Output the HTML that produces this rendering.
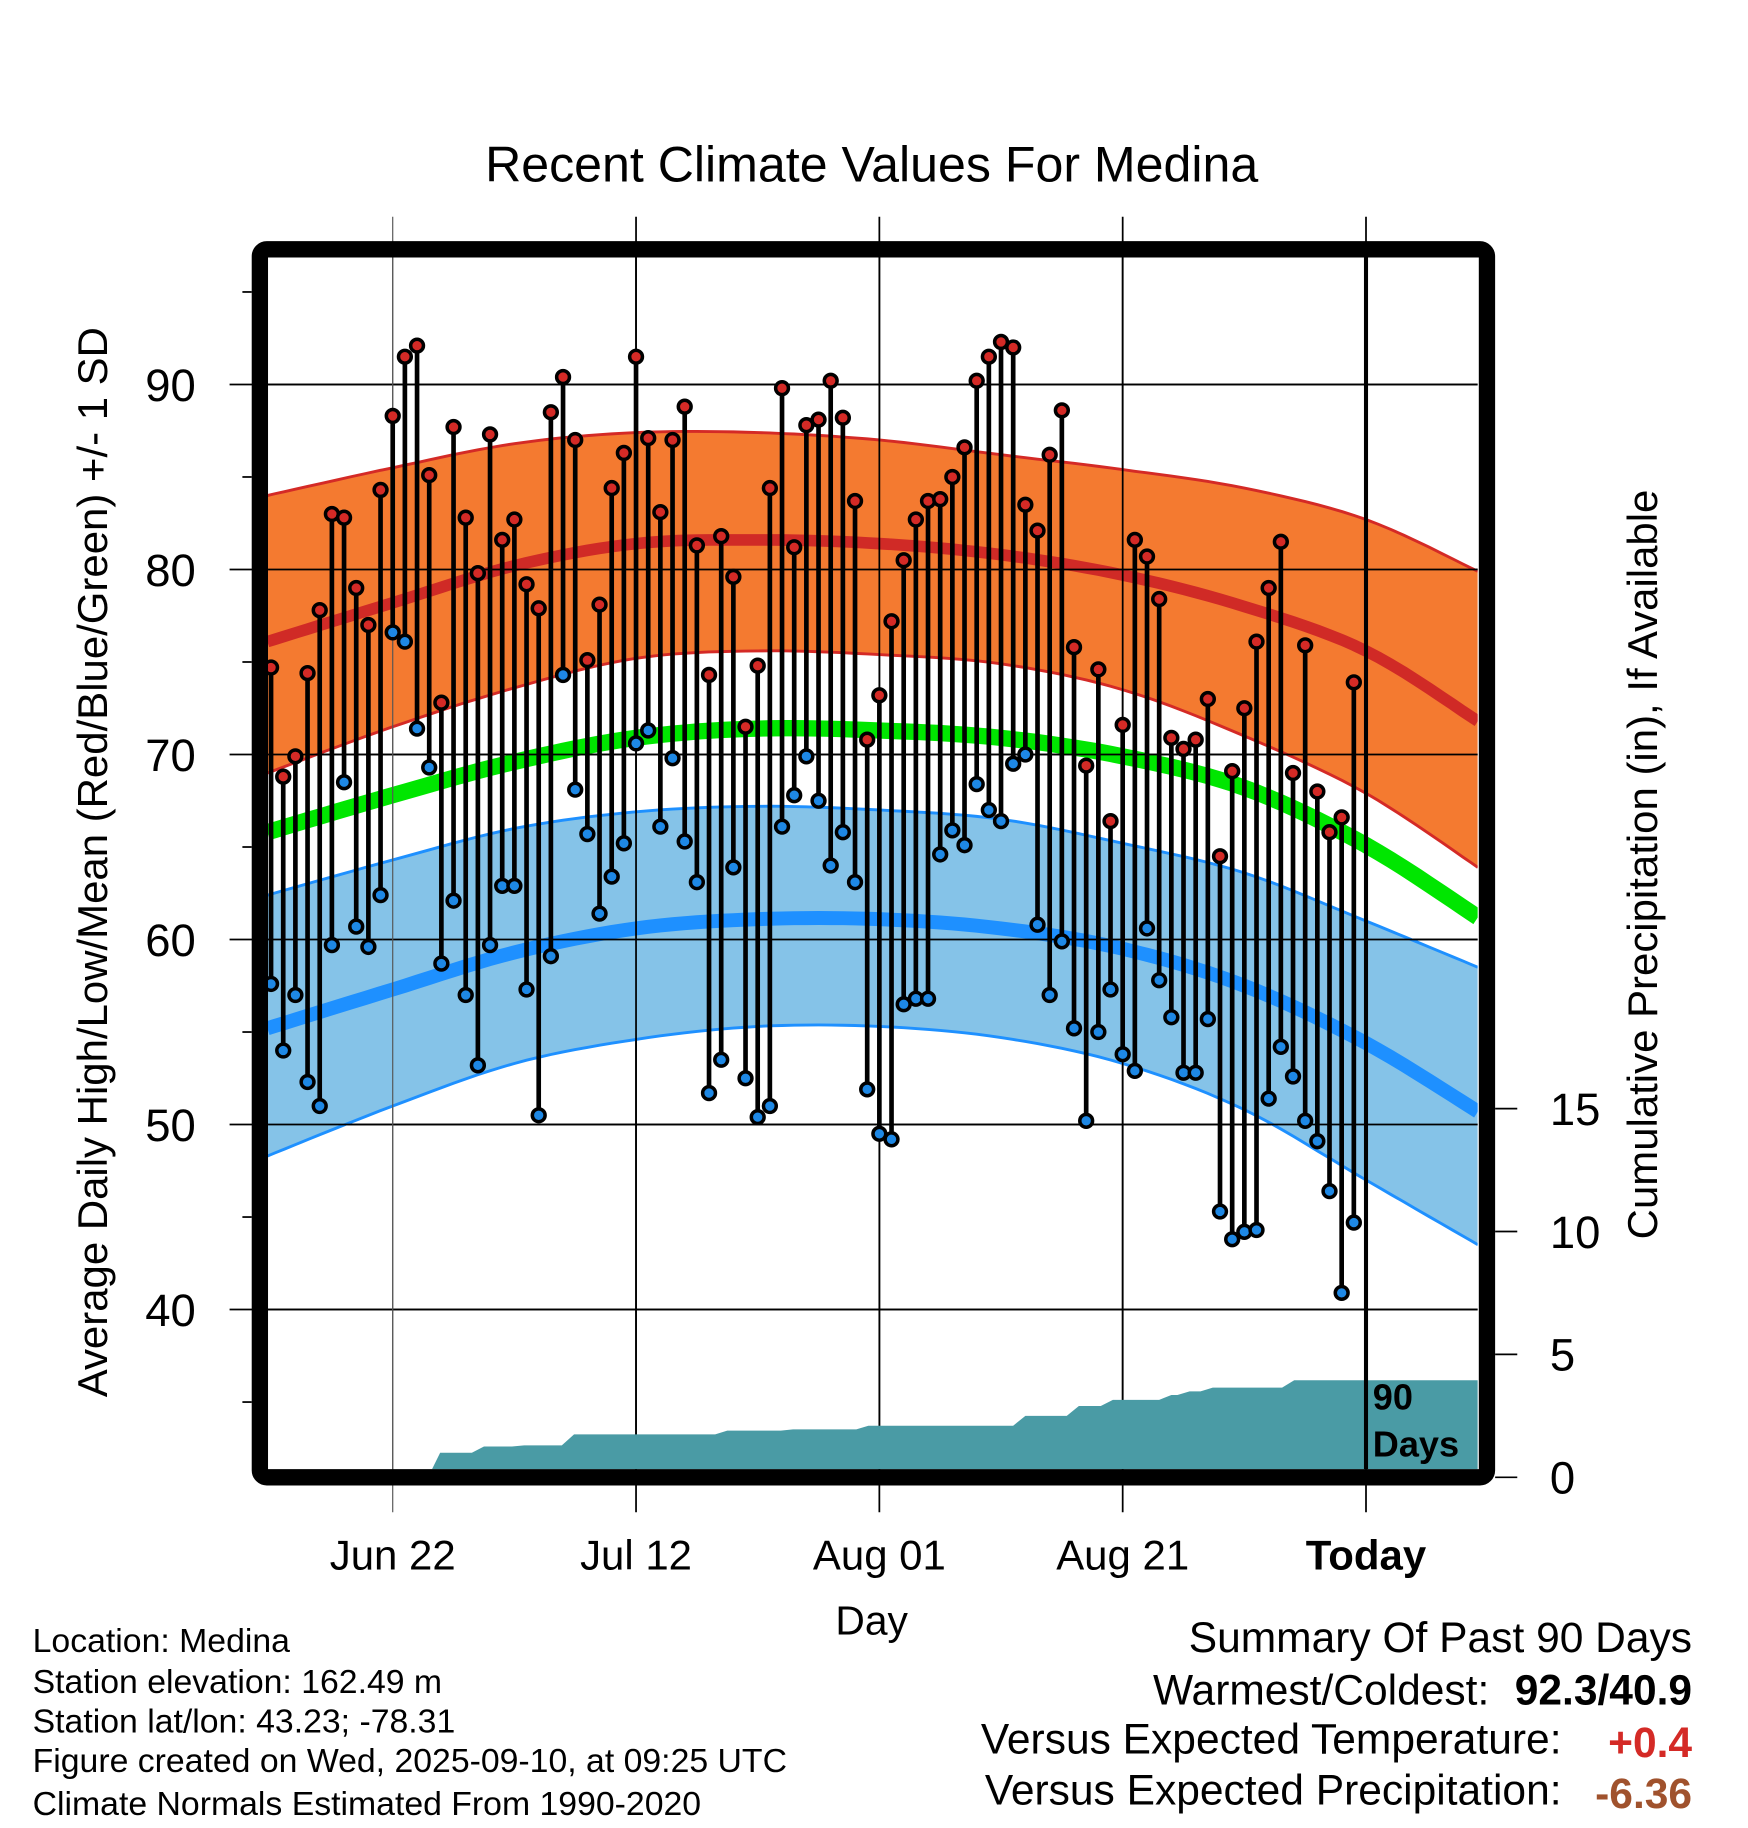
<!DOCTYPE html>
<html><head><meta charset="utf-8"><style>
html,body{margin:0;padding:0;background:#fff;}
svg{display:block;font-family:"Liberation Sans",Arial,sans-serif;}
</style></head><body>
<svg id="chart" xmlns="http://www.w3.org/2000/svg" width="1748" height="1828" viewBox="0 0 1500 1569" preserveAspectRatio="none">
<defs><clipPath id="plotclip"><rect x="230" y="221" width="1038" height="1040"/></clipPath></defs>
<rect width="1500" height="1569" fill="#fff"/>
<text x="748" y="156" font-size="43" text-anchor="middle">Recent Climate Values For Medina</text>
<g id="grid"></g>
<g id="plot" clip-path="url(#plotclip)"></g>
<g id="axes"></g>
<text transform="translate(92,740) rotate(-90)" font-size="36" text-anchor="middle">Average Daily High/Low/Mean (Red/Blue/Green) +/- 1 SD</text>
<text transform="translate(1422,742) rotate(-90)" font-size="36" text-anchor="middle">Cumulative Precipitation (in), If Available</text>
<text x="748" y="1403" font-size="35" text-anchor="middle">Day</text>
<g font-size="29">
<text x="28" y="1418">Location: Medina</text>
<text x="28" y="1453">Station elevation: 162.49 m</text>
<text x="28" y="1487">Station lat/lon: 43.23; -78.31</text>
<text x="28" y="1521">Figure created on Wed, 2025-09-10, at 09:25 UTC</text>
<text x="28" y="1558">Climate Normals Estimated From 1990-2020</text>
</g>
<g font-size="36.5">
<text x="1452" y="1418" text-anchor="end">Summary Of Past 90 Days</text>
<text x="1278" y="1463" text-anchor="end">Warmest/Coldest:</text>
<text x="1452" y="1463" text-anchor="end" font-weight="bold">92.3/40.9</text>
<text x="1340" y="1505" text-anchor="end">Versus Expected Temperature:</text>
<text x="1452" y="1508" text-anchor="end" font-weight="bold" fill="#d42a26">+0.4</text>
<text x="1340" y="1549" text-anchor="end">Versus Expected Precipitation:</text>
<text x="1452" y="1552" text-anchor="end" font-weight="bold" fill="#a0522d">-6.36</text>
</g>
</svg>
<script>
const xTickDays = [10, 30, 50, 70, 90];
const xTickLabels = ["Jun 22", "Jul 12", "Aug 01", "Aug 21", "Today"];
const yTicks = [40, 50, 60, 70, 80, 90];
const yMinorTicks = [35, 45, 55, 65, 75, 85, 95];
const precipTicks = [0, 5, 10, 15];
const normDays = [-0.3, 10, 20, 30, 40, 50, 60, 70, 80, 90, 99.2];
const highMean = [76.1, 78.2, 80.2, 81.4, 81.6, 81.4, 80.8, 79.7, 78.0, 75.6, 71.8];
const highUpper = [84.0, 85.5, 86.8, 87.4, 87.4, 87.0, 86.2, 85.4, 84.4, 82.7, 79.9];
const highLower = [69.0, 71.5, 73.6, 75.2, 75.6, 75.4, 74.9, 73.5, 71.0, 67.9, 63.9];
const meanNormal = [65.8, 67.8, 69.6, 70.9, 71.4, 71.3, 70.9, 69.9, 68.2, 65.1, 61.2];
const lowMean = [55.2, 57.3, 59.3, 60.6, 61.1, 61.1, 60.6, 59.5, 57.5, 54.4, 50.7];
const lowUpper = [62.4, 64.3, 66.0, 66.9, 67.2, 67.0, 66.5, 65.2, 63.6, 61.0, 58.5];
const lowLower = [48.3, 51.0, 53.3, 54.6, 55.3, 55.3, 54.7, 53.3, 50.8, 47.0, 43.5];
const dailyHigh = [74.7,68.8,69.9,74.4,77.8,83.0,82.8,79.0,77.0,84.3,88.3,91.5,92.1,85.1,72.8,87.7,82.8,79.8,87.3,81.6,82.7,79.2,77.9,88.5,90.4,87.0,75.1,78.1,84.4,86.3,91.5,87.1,83.1,87.0,88.8,81.3,74.3,81.8,79.6,71.5,74.8,84.4,89.8,81.2,87.8,88.1,90.2,88.2,83.7,70.8,73.2,77.2,80.5,82.7,83.7,83.8,85.0,86.6,90.2,91.5,92.3,92.0,83.5,82.1,86.2,88.6,75.8,69.4,74.6,66.4,71.6,81.6,80.7,78.4,70.9,70.3,70.8,73.0,64.5,69.1,72.5,76.1,79.0,81.5,69.0,75.9,68.0,65.8,66.6,73.9];
const dailyLow = [57.6,54.0,57.0,52.3,51.0,59.7,68.5,60.7,59.6,62.4,76.6,76.1,71.4,69.3,58.7,62.1,57.0,53.2,59.7,62.9,62.9,57.3,50.5,59.1,74.3,68.1,65.7,61.4,63.4,65.2,70.6,71.3,66.1,69.8,65.3,63.1,51.7,53.5,63.9,52.5,50.4,51.0,66.1,67.8,69.9,67.5,64.0,65.8,63.1,51.9,49.5,49.2,56.5,56.8,56.8,64.6,65.9,65.1,68.4,67.0,66.4,69.5,70.0,60.8,57.0,59.9,55.2,50.2,55.0,57.3,53.8,52.9,60.6,57.8,55.8,52.8,52.8,55.7,45.3,43.8,44.2,44.3,51.4,54.2,52.6,50.2,49.1,46.4,40.9,44.7];
const precipDays = [13.4, 17, 20.3, 24.4, 37, 42.4, 48.6, 61.5, 65.9, 68.7, 73.5, 75, 76.9, 83.6];
const precipTotals = [1.0, 1.25, 1.3, 1.75, 1.9, 1.95, 2.1, 2.5, 2.9, 3.15, 3.35, 3.5, 3.65, 3.95];

const NS = "http://www.w3.org/2000/svg";
const X = d => 337 + (d - 10) * 10.44;
const Y = t => 330 + (90 - t) * 15.88;
const YP = p => 1268 - p * 21.1;
function mk(tag, attrs, parent){const e=document.createElementNS(NS,tag);for(const k in attrs)e.setAttribute(k,attrs[k]);parent.appendChild(e);return e;}
function curvePts(vals){const pts=[];for(let i=0;i<normDays.length-1;i++){const p0=i>0?i-1:i,p3=i+2<normDays.length?i+2:i+1;for(let s=0;s<10;s++){const t=s/10;const f=(a,b,c,d)=>0.5*((2*b)+(-a+c)*t+(2*a-5*b+4*c-d)*t*t+(-a+3*b-3*c+d)*t*t*t);pts.push([X(f(normDays[p0],normDays[i],normDays[i+1],normDays[p3])),Y(f(vals[p0],vals[i],vals[i+1],vals[p3]))]);}}pts.push([X(normDays[normDays.length-1]),Y(vals[vals.length-1])]);return pts;}
const ptsStr = pts => pts.map(p=>p[0].toFixed(1)+","+p[1].toFixed(1)).join(" ");

const svg=document.getElementById('chart');
const grid=document.getElementById('grid'), plot=document.getElementById('plot'), axes=document.getElementById('axes');

// bands
const hu=curvePts(highUpper), hl=curvePts(highLower);
let e=mk('polygon',{points:ptsStr(hu.concat(hl.slice().reverse())),fill:'#f47a30'},plot);


const lu=curvePts(lowUpper), ll=curvePts(lowLower);
e=mk('polygon',{points:ptsStr(lu.concat(ll.slice().reverse())),fill:'#85c3e8'},plot);


[[hu,'#d42a26','high-band-upper-edge'],[hl,'#d42a26','high-band-lower-edge'],[lu,'#1e90ff','low-band-upper-edge'],[ll,'#1e90ff','low-band-lower-edge']].forEach(a=>{
  const l=mk('polyline',{points:ptsStr(a[0]),fill:'none',stroke:a[1],'stroke-width':2.5},plot);
  
  
});
[[highMean,'#d02a26',10,'normal-high-line'],[meanNormal,'#00e600',14,'normal-mean-line'],[lowMean,'#1e90ff',12,'normal-low-line']].forEach(a=>{
  const l=mk('polyline',{points:ptsStr(curvePts(a[0])),fill:'none',stroke:a[1],'stroke-width':a[2]},plot);
  
  
});

// gridlines (outer part)
yTicks.forEach(t=>{
  const l=mk('line',{x1:197,x2:1268,y1:Y(t),y2:Y(t),stroke:'#000','stroke-width':1.5},grid);
  
  
});
xTickDays.forEach((d,i)=>{
  const l=mk('line',{x1:X(d),x2:X(d),y1:186,y2:1298,stroke:i==0?'#555':'#000','stroke-width':i==0?1:1.5},grid);
  
  
});

const gridTop=document.createElementNS(NS,'g'); svg.insertBefore(gridTop, axes);


gridTop.setAttribute('clip-path','url(#plotclip)');
yTicks.forEach(t=>{
  const l=mk('line',{x1:230,x2:1268,y1:Y(t),y2:Y(t),stroke:'#000','stroke-width':1.5},gridTop);
  
  
});
xTickDays.forEach((d,i)=>{
  const l=mk('line',{x1:X(d),x2:X(d),y1:221,y2:1262,stroke:i==0?'#555':'#000','stroke-width':i==0?1:1.5},gridTop);
  
  
});

// precip area
let pp=[[X(-1),YP(0)]];
precipDays.forEach((d,i)=>{const prev=i?precipTotals[i-1]:0;pp.push([X(d-0.5),YP(prev)]);pp.push([X(d+0.5),YP(precipTotals[i])]);});
pp.push([1270,YP(precipTotals[precipTotals.length-1])]);pp.push([1270,YP(0)]);
const pa=mk('polygon',{points:ptsStr(pp),fill:'#4a9ba5'},gridTop);



// stems and dots
const marks=document.createElementNS(NS,'g'); svg.insertBefore(marks, axes);


marks.setAttribute('clip-path','url(#plotclip)');
dailyHigh.forEach((h,i)=>{
  const s=mk('line',{x1:X(i),x2:X(i),y1:Y(h),y2:Y(dailyLow[i]),stroke:'#000','stroke-width':4},marks);
  
  
});
dailyHigh.forEach((h,i)=>{
  const c=mk('circle',{cx:X(i),cy:Y(h),r:5.5,fill:'#d42a26',stroke:'#000','stroke-width':3},marks);
  
  
  const c2=mk('circle',{cx:X(i),cy:Y(dailyLow[i]),r:5.5,fill:'#1e88e5',stroke:'#000','stroke-width':3},marks);
  
  
});
const td=mk('line',{x1:X(90),x2:X(90),y1:221,y2:1262,stroke:'#000','stroke-width':3.5},marks);


let t1=mk('text',{x:1178,y:1210,'font-size':31,'font-weight':'bold'},marks);t1.textContent='90';


let t2=mk('text',{x:1178,y:1250,'font-size':31,'font-weight':'bold'},marks);t2.textContent='Days';



// frame
const fr=mk('rect',{x:223,y:214,width:1053,height:1054,rx:6,fill:'none',stroke:'#000','stroke-width':14},axes);


yTicks.forEach(t=>{
  const lb=mk('text',{x:168,y:Y(t)+14,'font-size':39,'text-anchor':'end'},axes);lb.textContent=t;
  
  
});
yMinorTicks.forEach(t=>{
  const l=mk('line',{x1:208,x2:216,y1:Y(t),y2:Y(t),stroke:'#000','stroke-width':1.5},axes);
  
  
});
precipTicks.forEach(p=>{
  const l=mk('line',{x1:1283,x2:1302,y1:YP(p),y2:YP(p),stroke:'#000','stroke-width':1.5},axes);
  
  
  const lb=mk('text',{x:1330,y:YP(p)+14,'font-size':39},axes);lb.textContent=p;
  
  
});
xTickDays.forEach((d,i)=>{
  const lb=mk('text',{x:X(d),y:1347,'font-size':36,'text-anchor':'middle','font-weight':i==4?'bold':'normal'},axes);lb.textContent=xTickLabels[i];
  
  
});
</script>
</body></html>
